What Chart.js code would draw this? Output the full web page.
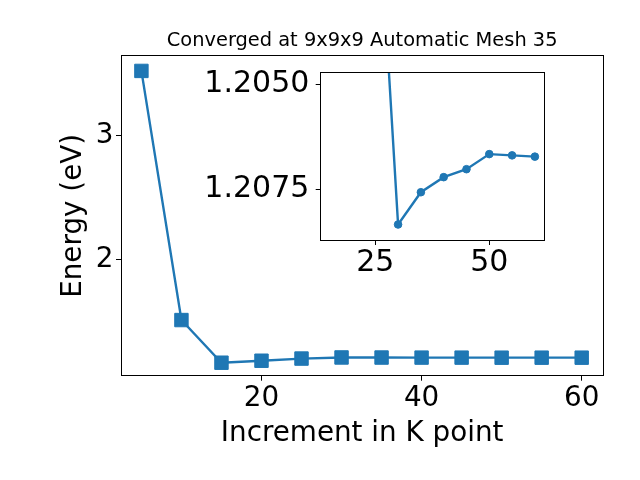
<!DOCTYPE html>
<html><head><meta charset="utf-8">
<script src="https://cdn.jsdelivr.net/npm/chart.js@4.4.1/dist/chart.umd.min.js"></script>
<style>
html,body{margin:0;padding:0;background:#fff;}
#wrap{position:relative;width:640px;height:480px;}
canvas{position:absolute;left:0;top:0;}
</style></head><body>
<div id="wrap"><canvas id="main" width="640" height="480"></canvas><canvas id="inset" width="640" height="480"></canvas></div>
<script>
const kpoints = [5, 10, 15, 20, 25, 30, 35, 40, 45, 50, 55, 60];
const energy = [3.519, 1.510, 1.166, 1.182, 1.1993, 1.20834, 1.20757, 1.20721, 1.20702, 1.20666, 1.20669, 1.20672];
const insetStart = 2; // the inset plots the series from 15 K points onward
const mainXTicks = [20, 40, 60];
const mainYTicks = [2, 3];
const insetXTicks = [25, 50];
const insetYTicks = [1.2050, 1.2075];
const titleText = 'Converged at 9x9x9 Automatic Mesh 35';
const xLabel = 'Increment in K point';
const yLabel = 'Energy (eV)';

Chart.defaults.font.family = "'DejaVu Sans'";
Chart.defaults.color = '#000';
const BLUE = '#1f77b4';
const pts = kpoints.map((k, i) => ({x: k, y: energy[i]}));
const insetPts = pts.slice(insetStart);

const boxPlugin = {
  id: 'box',
  beforeDraw(chart, args, opts) {
    if (!opts.fill) return;
    const a = chart.chartArea, ctx = chart.ctx;
    ctx.save(); ctx.fillStyle = '#fff';
    ctx.fillRect(a.left, a.top, a.right - a.left, a.bottom - a.top);
    ctx.restore();
  },
  afterDraw(chart) {
    const a = chart.chartArea, ctx = chart.ctx;
    ctx.save(); ctx.strokeStyle = '#000'; ctx.lineWidth = 1;
    const l = Math.floor(a.left) + 0.5, t = Math.floor(a.top) + 0.5;
    const r = Math.floor(a.right) + 0.5, b = Math.floor(a.bottom) + 0.5;
    ctx.strokeRect(l, t, r - l, b - t);
    ctx.restore();
  }
};

function tickGrid(len) {
  return {display: true, drawOnChartArea: false, drawTicks: true, tickLength: len, color: '#000', lineWidth: 1};
}

new Chart(document.getElementById('main'), {
  type: 'line',
  data: {datasets: [{
    data: pts, borderColor: BLUE, borderWidth: 2.4, tension: 0,
    pointStyle: 'rect', pointRadius: 9.5, pointBackgroundColor: BLUE,
    pointBorderColor: BLUE, pointBorderWidth: 1
  }]},
  options: {
    responsive: false, animation: false, events: [],
    layout: {padding: {left: 0, right: 36.7, top: 0, bottom: 0}},
    plugins: {
      legend: {display: false}, tooltip: {enabled: false},
      title: {display: true, text: titleText, fullSize: false, color: '#000',
        font: {size: 19.4, weight: 'normal'}, padding: {top: 29, bottom: 3.7}},
      box: {fill: false}
    },
    scales: {
      x: {type: 'linear', min: 2.45, max: 62.7,
        afterBuildTicks: s => { s.ticks = mainXTicks.map(v => ({value: v})); },
        afterFit: s => { s.height = 104.3; },
        ticks: {font: {size: 27.8}, padding: 1, autoSkip: false, maxRotation: 0},
        grid: tickGrid(5), border: {display: false},
        title: {display: true, text: xLabel, font: {size: 27.8}, padding: {top: 0, bottom: 29.6}}
      },
      y: {type: 'linear', min: 1.0613, max: 3.6395,
        afterBuildTicks: s => { s.ticks = mainYTicks.map(v => ({value: v})); },
        afterFit: s => { s.width = 121; },
        ticks: {font: {size: 27.8}, padding: 2.6, autoSkip: false},
        grid: tickGrid(5), border: {display: false},
        title: {display: true, text: yLabel, font: {size: 27.8}, padding: {top: 57.3, bottom: 0}}
      }
    }
  },
  plugins: [boxPlugin]
});

new Chart(document.getElementById('inset'), {
  type: 'line',
  data: {datasets: [{
    data: insetPts, borderColor: BLUE, borderWidth: 2.4, tension: 0, clip: 0,
    pointStyle: 'circle', pointRadius: 3.8, pointBackgroundColor: BLUE,
    pointBorderColor: BLUE, pointBorderWidth: 1
  }]},
  options: {
    responsive: false, animation: false, events: [],
    layout: {padding: {left: 0, right: 96, top: 72, bottom: 0}},
    plugins: {legend: {display: false}, tooltip: {enabled: false}, title: {display: false}, box: {fill: true}},
    scales: {
      x: {type: 'linear', min: 13.03, max: 62.0,
        afterBuildTicks: s => { s.ticks = insetXTicks.map(v => ({value: v})); },
        afterFit: s => { s.height = 240; },
        ticks: {font: {size: 30}, padding: 0, autoSkip: false, maxRotation: 0},
        grid: tickGrid(5), border: {display: false}
      },
      y: {type: 'linear', reverse: true, min: 1.20470, max: 1.20871,
        afterBuildTicks: s => { s.ticks = insetYTicks.map(v => ({value: v})); },
        afterFit: s => { s.width = 320.7; },
        ticks: {font: {size: 30}, padding: 6.4, autoSkip: false, callback: v => Number(v).toFixed(4)},
        grid: tickGrid(5), border: {display: false}
      }
    }
  },
  plugins: [boxPlugin]
});
</script>
</body></html>
